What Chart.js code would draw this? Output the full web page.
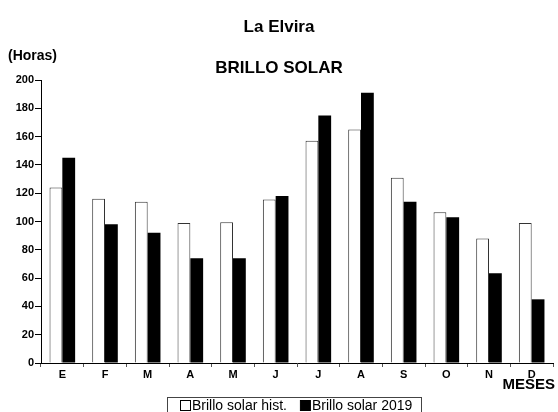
<!DOCTYPE html>
<html>
<head>
<meta charset="utf-8">
<style>
    html, body { margin: 0; padding: 0; background: #fff; }
    #wrap { width: 558px; height: 412px; }
</style>
</head>
<body>
<div id="wrap">
    <canvas id="chart" width="558" height="412"></canvas>
</div>

<script src="https://cdn.jsdelivr.net/npm/chart.js"></script>
<script type="text/javascript">
    const months = ['E', 'F', 'M', 'A', 'M', 'J', 'J', 'A', 'S', 'O', 'N', 'D'];
    const histHours = [124, 116, 114, 99, 99.5, 115.5, 157, 165, 131, 106.5, 88, 99];
    const hours2019 = [145, 98, 92, 74, 74, 118, 175, 191, 114, 103, 63.5, 45];
    const yTicks = [0, 20, 40, 60, 80, 100, 120, 140, 160, 180, 200];

    const FONT = '"Liberation Sans", Arial, sans-serif';

    // titles, axis names and the boxed legend
    const textPlugin = {
        id: 'texts',
        afterDraw(chart) {
            const ctx = chart.ctx;
            ctx.save();
            ctx.fillStyle = '#000';
            ctx.textBaseline = 'middle';

            ctx.textAlign = 'center';
            ctx.font = 'bold 17px ' + FONT;
            ctx.fillText('La Elvira', 279, 27);
            ctx.fillText('BRILLO SOLAR', 279, 68);

            ctx.textAlign = 'left';
            ctx.font = 'bold 14px ' + FONT;
            ctx.fillText('(Horas)', 8, 56);

            ctx.textAlign = 'right';
            ctx.font = 'bold 15px ' + FONT;
            ctx.fillText('MESES', 555, 385);

            // legend
            ctx.strokeStyle = '#444';
            ctx.lineWidth = 1;
            ctx.strokeRect(167.5, 397.5, 254, 20);
            ctx.font = '14px ' + FONT;
            ctx.textAlign = 'left';
            let x = 180;
            chart.data.datasets.forEach(ds => {
                ctx.fillStyle = ds.backgroundColor;
                ctx.fillRect(x + 0.5, 400.5, 10, 10);
                ctx.strokeStyle = '#000';
                ctx.strokeRect(x + 0.5, 400.5, 10, 10);
                ctx.fillStyle = '#000';
                ctx.fillText(ds.label, x + 12, 406);
                x += 12 + ctx.measureText(ds.label).width + 13;
            });
            ctx.restore();
        }
    };

    new Chart(document.getElementById('chart'), {
        type: 'bar',
        data: {
            labels: months,
            datasets: [{
                label: 'Brillo solar hist.',
                data: histHours,
                backgroundColor: '#ffffff',
                borderColor: '#333333',
                borderWidth: 1
            }, {
                label: 'Brillo solar 2019',
                data: hours2019,
                backgroundColor: '#000000',
                borderColor: '#000000',
                borderWidth: 0
            }]
        },
        options: {
            responsive: false,
            animation: false,
            devicePixelRatio: 1,
            layout: { padding: { top: 80, right: 5, left: 0, bottom: 0 } },
            datasets: {
                bar: { categoryPercentage: 0.6, barPercentage: 1.0 }
            },
            scales: {
                x: {
                    afterFit(scale) { scale.height = 49; },
                    grid: {
                        offset: true,
                        drawOnChartArea: false,
                        tickLength: 4,
                        color: '#555'
                    },
                    border: { display: true, color: '#000', width: 1 },
                    ticks: {
                        color: '#000',
                        padding: 1,
                        font: { family: FONT, size: 11, weight: 'bold' }
                    }
                },
                y: {
                    min: 0,
                    max: 200,
                    afterFit(scale) { scale.width = 41; },
                    afterBuildTicks(scale) {
                        scale.ticks = yTicks.map(v => ({ value: v }));
                    },
                    grid: {
                        drawOnChartArea: false,
                        tickLength: 6,
                        color: '#000'
                    },
                    border: { display: true, color: '#000', width: 1 },
                    ticks: {
                        color: '#000',
                        padding: 1,
                        font: { family: FONT, size: 11, weight: 'bold' }
                    }
                }
            },
            plugins: {
                legend: { display: false },
                tooltip: { enabled: false }
            }
        },
        plugins: [textPlugin]
    });
</script>
</body>
</html>
